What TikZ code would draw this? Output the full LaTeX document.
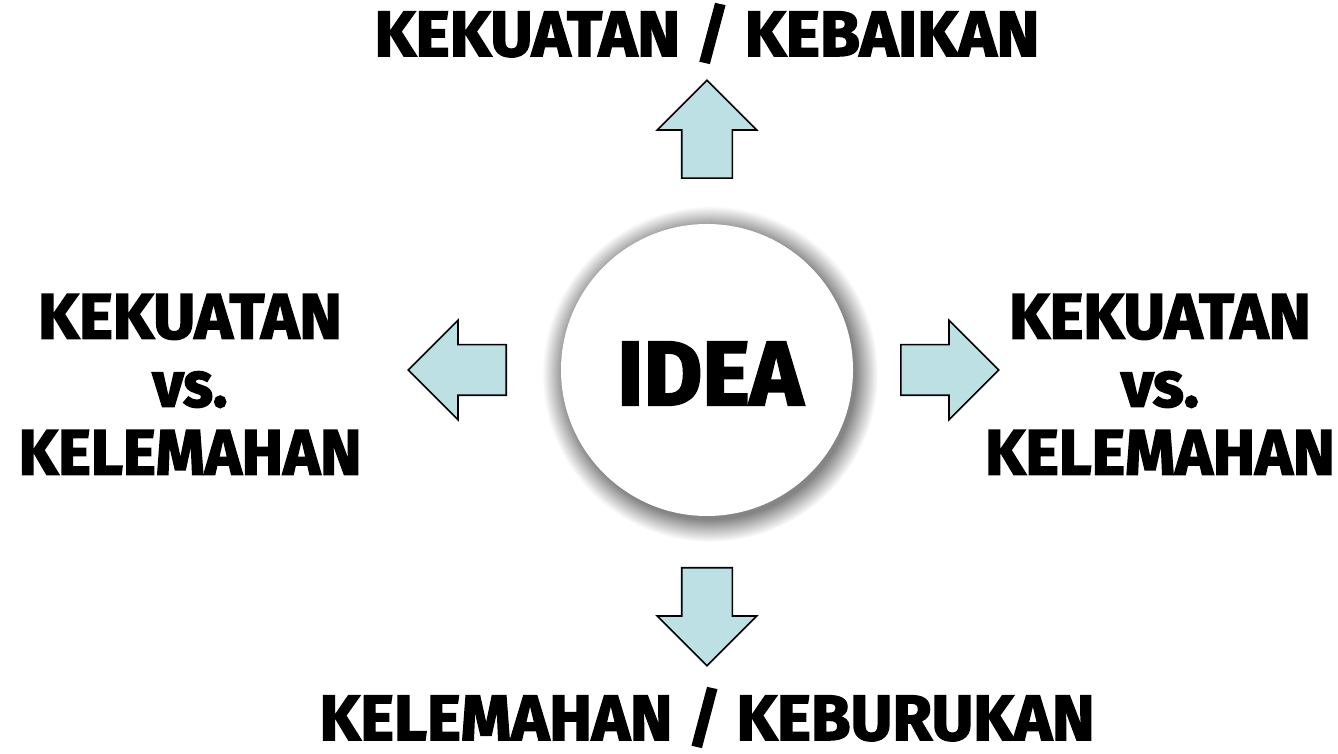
\documentclass[tikz,border=0pt]{standalone}
\usepackage{fontspec}
\setmainfont{Fira Sans}[BoldFeatures={FakeBold=2.5}]
\usetikzlibrary{shapes.arrows}
\definecolor{biru}{RGB}{188,224,227}
\pgfdeclareradialshading{sinar}{\pgfpoint{0bp}{0bp}}{color(0bp)=(black!48); color(21.6bp)=(black!48); color(23bp)=(black!28); color(25bp)=(white); color(50bp)=(white)}

\begin{document}
\begin{tikzpicture}[x=1pt, y=1pt,
    panah/.style={single arrow, draw, fill=biru, line width=1.6pt, minimum height=98pt, single arrow head extend=24.5pt, inner sep=24.5pt, anchor=tail},
    judul/.style={font=\bfseries\fontsize{64}{68}\selectfont, inner sep=0pt, align=center}]
  \useasboundingbox (0,0) rectangle (1338,754);

  % lingkaran tengah
  \shade[shading=sinar] (710,380) circle (168);
  \node[circle, fill=white, minimum size=292pt, inner sep=0pt] (idea) at (707,384) {};
  \node[font=\bfseries\fontsize{91}{91}\selectfont, inner sep=0pt, anchor=base] (ideateks) at (710,349) {\resizebox{186pt}{\height}{IDEA}};

  % panah
  \node[panah, shape border rotate=90] (atas) at (707,575) {};
  \node[panah, shape border rotate=270] (bawah) at (707,187) {};
  \node[panah, shape border rotate=180] (kiri) at (507,384) {};
  \node[panah] (kanan) at (900,384) {};

  % teks
  \node[judul, anchor=base] (kebaikan) at (707,698) {\resizebox{665pt}{\height}{KEKUATAN / KEBAIKAN}};
  \node[judul, anchor=base] (keburukan) at (707,14) {\resizebox{775pt}{\height}{KELEMAHAN / KEBURUKAN}};
  \node[judul, anchor=north] (vskiri) at (190,460) {\resizebox{304pt}{\height}{KEKUATAN}\\\resizebox{75pt}{\height}{vs.}\\\resizebox{343pt}{\height}{KELEMAHAN}};
  \node[judul, anchor=north] (vskanan) at (1160,460) {\resizebox{302pt}{\height}{KEKUATAN}\\\resizebox{78pt}{\height}{vs.}\\\resizebox{350pt}{\height}{KELEMAHAN}};
\end{tikzpicture}
\end{document}
